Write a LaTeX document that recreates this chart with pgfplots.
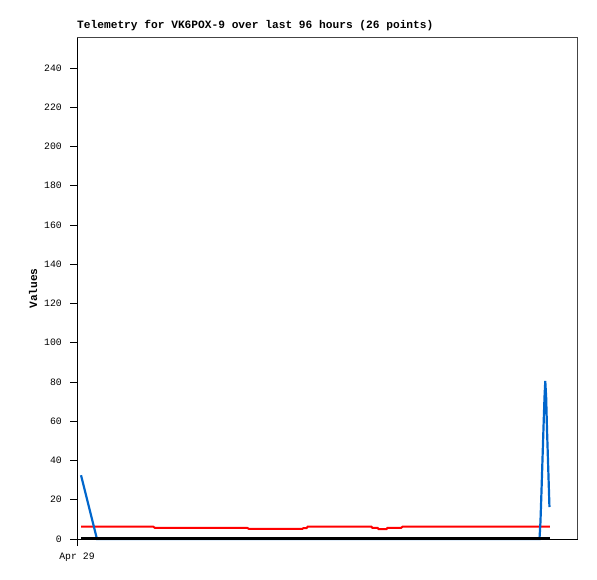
\documentclass[border=0pt]{standalone}
\usepackage{fontspec}
\setmainfont{Liberation Mono}
\setmonofont{Liberation Mono}
\usepackage{pgfplots}
\pgfplotsset{compat=1.18}
\definecolor{bluel}{HTML}{0066CC}
\definecolor{boxgray}{HTML}{444444}
\begin{document}
\begin{tikzpicture}[x=1pt,y=1pt]
\begin{axis}[
  scale only axis,
  width=501pt, height=501pt,
  at={(77pt,40pt)}, anchor=south west,
  xmin=0, xmax=96, ymin=0, ymax=255.3,
  clip=false,
  axis line style={draw=boxgray, line width=1pt},
  xtick={0}, xticklabels={Apr 29},
  ytick={0,20,...,240},
  xtick pos=bottom, ytick pos=left,
  tick align=outside,
  major tick length=7pt,
  tick style={black, line width=1pt},
  /pgf/number format/assume math mode=true,
  ticklabel style={font=\fontsize{9.8}{10}\selectfont},
  yticklabel style={anchor=east, inner sep=0pt, xshift=-8pt},
  xticklabel style={anchor=base, inner sep=0pt, yshift=-13pt},
  title={Telemetry for VK6POX-9 over last 96 hours (26 points)},
  title style={at={(axis description cs:0,1)}, anchor=base west, inner sep=0pt, yshift=3pt, font=\fontsize{11.2}{12}\selectfont\bfseries},
  ylabel={Values},
  every axis y label/.style={at={(axis description cs:0,0.5)}, xshift=-44pt, rotate=90, anchor=center, inner sep=0pt, font=\fontsize{11.2}{12}\selectfont\bfseries},
  after end axis/.code={\draw[black, line width=1pt] (rel axis cs:0,1) -- (rel axis cs:0,0) -- (rel axis cs:1,0);},
]
\addplot[red, line width=2pt, line join=miter] coordinates {
(0.77,6.3) (14.6,6.3) (14.9,5.7) (32.6,5.7) (32.9,5.2) (43.2,5.2) (43.4,5.6) (44.0,5.6) (44.2,6.3)
(56.4,6.3) (56.6,5.7) (57.6,5.7) (57.8,5.0) (59.3,5.0) (59.5,5.7) (62.1,5.7) (62.4,6.3) (90.63,6.3)
};
\addplot[bluel, line width=2.2pt] coordinates {
(0.77,32.5) (3.83,0) (88.62,0) (88.81,8.8) (89.00,24) (89.19,40) (89.38,56) (89.58,72) (89.73,80.5)
(89.90,72) (90.06,56) (90.25,40) (90.44,24) (90.53,16.3)
};
\addplot[black, line width=2pt] coordinates {(0.77,0.4) (90.63,0.4)};
\end{axis}
\pgfresetboundingbox
\useasboundingbox (0,0) rectangle (597pt,579pt);
\end{tikzpicture}
\end{document}
